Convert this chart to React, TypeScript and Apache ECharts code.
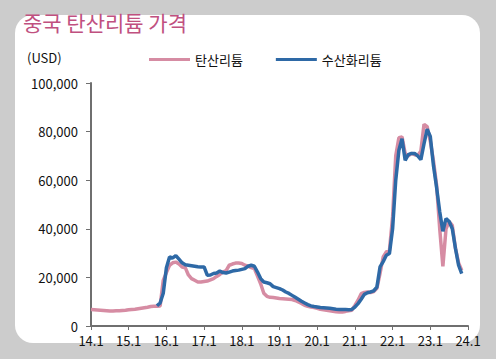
import React, { useEffect, useRef } from "react";
import * as echarts from "echarts";

const title = "중국 탄산리튬 가격";
const unitLabel = "(USD)";
const seriesNames = ["탄산리튬", "수산화리튬"];
const startYear = 2014;
const xTickYears = [2014, 2015, 2016, 2017, 2018, 2019, 2020, 2021, 2022, 2023, 2024];

// monthly, 2014-01 .. 2023-11
const carbonate: (number | null)[] = [
  // 2014
  6800, 6700, 6600, 6500, 6400, 6300, 6200, 6200, 6300, 6300, 6400, 6500,
  // 2015
  6700, 6800, 6900, 7100, 7300, 7500, 7700, 8000, 8100, 8100, 8200, 18800,
  // 2016
  22000, 25000, 26000, 26300, 25500, 24300, 24000, 21000, 19500, 18800, 18100, 18100,
  // 2017
  18300, 18500, 19000, 19500, 20400, 21200, 22200, 22800, 25000, 25500, 25900, 25900,
  // 2018
  25700, 25000, 24600, 24000, 23600, 20500, 17400, 13500, 12200, 11800, 11700, 11500,
  // 2019
  11300, 11200, 11100, 11000, 10900, 10500, 9900, 9300, 8500, 8100, 7800, 7600,
  // 2020
  7300, 6900, 6700, 6500, 6300, 6100, 5900, 5800, 5800, 6000, 6300, 6500,
  // 2021
  8500, 10600, 13300, 13800, 14000, 13800, 14200, 15500, 21600, 28400, 30500, 31100,
  // 2022
  45000, 70000, 77500, 77800, 71000, 70000, 71000, 70500, 70200, 72000, 83000, 82000,
  // 2023
  76000, 68000, 58000, 40000, 24500, 40000, 43000, 41400, 32000, 26000, 22900,
];

const hydroxide: (number | null)[] = [
  // 2014
  null, null, null, null, null, null, null, null, null, null, null, null,
  // 2015
  null, null, null, null, null, null, null, null, null, 8300, 9500, 13500,
  // 2016
  24000, 28400, 28000, 29000, 27500, 26000, 25200, 25000, 24800, 24600, 24400, 24300,
  // 2017
  24300, 20900, 21000, 21600, 21800, 22600, 22000, 21800, 22200, 22600, 22800, 23000,
  // 2018
  23300, 23600, 24600, 25000, 24600, 22200, 19500, 18100, 17800, 17400, 16200, 15800,
  // 2019
  15400, 14800, 14000, 13400, 12600, 11800, 11000, 10200, 9500, 8800, 8300, 8000,
  // 2020
  7800, 7600, 7500, 7400, 7300, 7100, 6900, 6800, 6750, 6750, 6700, 6800,
  // 2021
  7800, 9200, 11000, 13000, 13700, 14000, 14500, 16000, 24300, 26500, 29100, 29800,
  // 2022
  40000, 60000, 72300, 77100, 68200, 70500, 71000, 71000, 70000, 68500, 75000, 81000,
  // 2023
  78000, 66000, 57000, 47000, 39000, 44200, 43000, 40000, 32000, 25000, 21600,
];

const toPairs = (vals: (number | null)[]) =>
  vals.map((v, i) => [startYear + i / 12, v]);

const FONT = "Noto Sans CJK KR";
const TEXT = "#111111";

export default function App() {
  const ref = useRef<HTMLDivElement>(null);
  useEffect(() => {
    if (!ref.current) return;
    const chart = echarts.init(ref.current, null, { renderer: "svg" });
    chart.setOption({
      animation: false,
      backgroundColor: "#cccccc",
      textStyle: { fontFamily: FONT },
      title: {
        text: title,
        left: 18,
        top: 6,
        textStyle: { color: "#c0507f", fontSize: 21, fontWeight: "normal", fontFamily: FONT },
      },
      graphic: [
        {
          type: "rect",
          z: -10,
          shape: { x: 15, y: 15, width: 465, height: 328, r: 18 },
          style: { fill: "#ffffff" },
        },
        {
          type: "text",
          x: 27,
          y: 57,
          style: {
            text: unitLabel,
            fill: TEXT,
            font: `13px "${FONT}"`,
            verticalAlign: "middle",
          },
        },
      ],
      legend: {
        left: 144,
        top: 48,
        icon: "rect",
        itemWidth: 41,
        itemHeight: 3,
        itemGap: 33,
        textStyle: { color: TEXT, fontSize: 13, fontFamily: FONT },
        data: seriesNames,
      },
      grid: { left: 91, right: 28, top: 83, bottom: 33 },
      xAxis: {
        type: "value",
        min: xTickYears[0],
        max: xTickYears[xTickYears.length - 1],
        interval: 1,
        axisLine: { lineStyle: { color: "#6f6f6f", width: 2 } },
        axisTick: { show: true, length: 4, lineStyle: { color: "#6f6f6f", width: 1 } },
        axisLabel: {
          color: TEXT,
          fontSize: 13,
          margin: 8,
          fontFamily: FONT,
          formatter: (v: number) => `${v - 2000}.1`,
        },
        splitLine: { show: false },
      },
      yAxis: {
        type: "value",
        min: 0,
        max: 100000,
        interval: 20000,
        axisLine: { show: true, lineStyle: { color: "#6f6f6f", width: 2 } },
        axisTick: { show: true, length: 5, lineStyle: { color: "#6f6f6f", width: 1 } },
        axisLabel: {
          color: TEXT,
          fontSize: 13,
          margin: 13,
          fontFamily: FONT,
          formatter: (v: number) => v.toLocaleString("en-US"),
        },
        splitLine: { show: false },
      },
      series: [
        {
          name: seriesNames[0],
          type: "line",
          data: toPairs(carbonate),
          showSymbol: false,
          symbol: "none",
          lineStyle: { color: "#d68ca3", width: 3.5 },
          itemStyle: { color: "#d68ca3" },
        },
        {
          name: seriesNames[1],
          type: "line",
          data: toPairs(hydroxide),
          showSymbol: false,
          symbol: "none",
          connectNulls: false,
          lineStyle: { color: "#2e69a6", width: 3.5 },
          itemStyle: { color: "#2e69a6" },
        },
      ],
    });
    return () => chart.dispose();
  }, []);
  return (
    <div
      ref={ref}
      style={{ position: "fixed", left: 0, top: 0, width: 496, height: 359 }}
    />
  );
}
